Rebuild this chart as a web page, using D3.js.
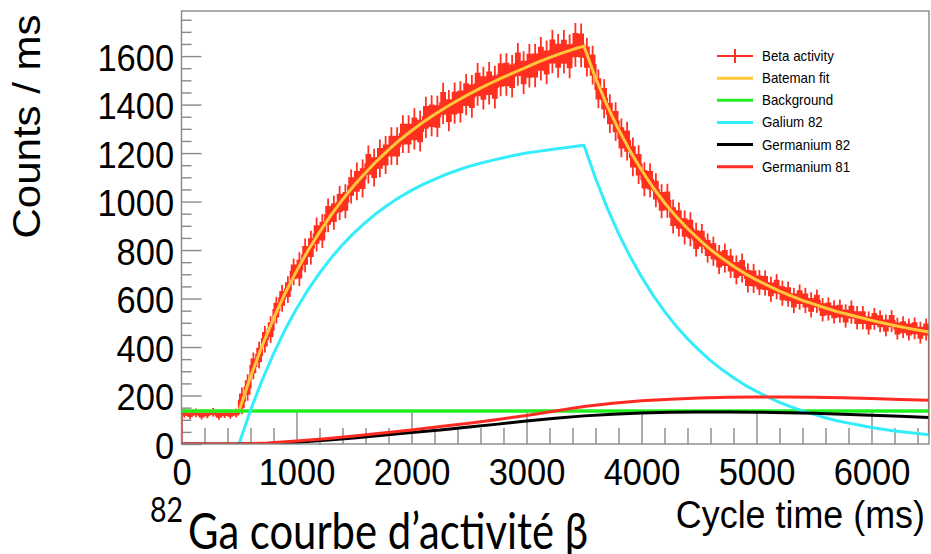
<!doctype html>
<html>
<head>
<meta charset="utf-8">
<style>
    html,body{
        margin: 0;
        overflow: hidden;
        background: #fff;
    }
    text {
        font-family: "Liberation Sans", Arial, Helvetica, sans-serif;
        fill: #000;
    }
</style>
</head>
<body>
<script src="https://d3js.org/d3.v7.min.js"></script>
<script>
// ---- data ----
var binWidth = 50; // ms
// beta activity, one value per 50 ms bin (counts / ms)
var betaCounts = [
    126,121,128,119,124,130,118,125,122,127,
    178,233,322,367,432,472,552,601,637,710,
    721,778,810,864,878,943,954,994,1001,1062,
    1083,1095,1153,1140,1178,1192,1229,1229,1278,1278,
    1300,1291,1347,1354,1351,1405,1375,1406,1411,1441,
    1434,1483,1468,1488,1472,1522,1524,1517,1566,1532,
    1560,1561,1589,1574,1619,1601,1618,1599,1646,1644,
    1596,1563,1465,1424,1363,1330,1263,1249,1184,1152,
    1092,1088,1047,1001,1003,938,926,893,886,843,
    847,808,795,761,767,745,718,726,685,683,
    666,664,638,649,622,618,592,606,592,574,
    589,554,557,545,548,528,544,521,521,499,
    516,506,489,507,476,482,472,477,459,472
];
// half height of the error bars, per 500 ms slice
var betaErrBand = [18, 55, 70, 78, 85, 88, 90, 80, 70, 60, 52, 48, 45];
var betaTail = 40;   // last (partial) bin at the cycle end

var fitTime = [0].concat(d3.range(500, 6501, 100));
var fitValue = [136,
    136,277,403,517,621,713,798,874,944,1008,1066,1119,1168,1213,1255,1292,
    1327,1359,1389,1417,1443,1468,1491,1513,1534,1555,1575,1594,1611,1627,1641,
    1510,1397,1298,1209,1130,1058,995,939,889,844,802,766,733,703,677,
    653,631,611,592,577,561,546,534,522,510,499,489,479,470,462];

var bgTime = [0, 6500];
var bgValue = [136, 136];

var gaTime = d3.range(500, 6501, 100);
var gaValue = [0,139,262,372,471,558,636,705,767,822,871,914,953,988,1019,1046,
    1071,1092,1112,1129,1145,1158,1170,1181,1191,1200,1207,1214,1220,1226,1232,
    1096,976,869,774,690,614,547,487,434,387,344,307,273,243,217,
    193,172,153,136,122,108,96,86,77,68,61,54,48,43,38];

var geTime = d3.range(0, 6501, 250);
var ge82Value = [0,0,0,2,7,15,25,36,47,58,70,82,95,106,116,123,128,131,132,132,131,129,127,123,119,114,109];
var ge81Value = [0,0,0,4,12,22,33,45,58,72,86,101,118,136,155,168,178,185,190,193,194,194,193,191,188,184,180];

var xMajor = [0,1000,2000,3000,4000,5000,6000];
var yMajor = [0,200,400,600,800,1000,1200,1400,1600];

var legendItems = [
    {name: "Beta activity", color: "#ff3020", cross: true},
    {name: "Bateman fit", color: "#ffc83a"},
    {name: "Background", color: "#22ee22"},
    {name: "Galium 82", color: "#33eefa"},
    {name: "Germanium 82", color: "#000000"},
    {name: "Germanium 81", color: "#ff2a22"}
];

(function(){
    var w = 931, h = 554,
        left = 181.5, right = 929, top = 11, bottom = 444,
        sx = 0.92;   // text in the picture is a bit squeezed

    var svg = d3.select("body").append("svg")
        .attr("width", w)
        .attr("height", h);

    var x = d3.scaleLinear().domain([0, 6500]).range([left, right]);
    var y = d3.scaleLinear().domain([0, 1786]).range([bottom, top]);

    svg.append("clipPath").attr("id", "frame")
        .append("rect")
        .attr("x", left).attr("y", top)
        .attr("width", right - left).attr("height", bottom - top);

    // ---- axes ----
    function styleAxis(g){
        g.select(".domain").remove();
        g.selectAll("line").attr("stroke", "#888").attr("stroke-width", 1.4);
    }

    var xMinor = d3.range(0, 6501, 200).filter(function(d){ return d % 1000 !== 0; });
    var yMinor = d3.range(0, 1786, 50).filter(function(d){ return d % 200 !== 0; });

    svg.append("g").attr("transform", "translate(0," + bottom + ")")
        .call(d3.axisBottom(x).tickValues(xMinor).tickSize(-16).tickFormat(""))
        .call(styleAxis);
    var gx = svg.append("g").attr("transform", "translate(0," + bottom + ")")
        .call(d3.axisBottom(x).tickValues(xMajor).tickSize(-32).tickPadding(14).tickFormat(d3.format("d")))
        .call(styleAxis);
    gx.selectAll("text")
        .attr("transform", "scale(" + sx + ",1)")
        .style("font-size", "37.5px").attr("fill", "#000");

    svg.append("g").attr("transform", "translate(" + left + ",0)")
        .call(d3.axisLeft(y).tickValues(yMinor).tickSize(-10).tickFormat(""))
        .call(styleAxis);
    var gy = svg.append("g").attr("transform", "translate(" + left + ",0)")
        .call(d3.axisLeft(y).tickValues(yMajor).tickSize(-20).tickPadding(8).tickFormat(d3.format("d")))
        .call(styleAxis);
    gy.selectAll("text")
        .attr("transform", "scale(" + sx + ",1)")
        .attr("dy", "0.38em")
        .style("font-size", "37.5px").attr("fill", "#000");

    // ---- beta activity histogram with error bars ----
    var bins = betaCounts.map(function(v, i){
        var t0 = i * binWidth;
        return {t0: t0, tc: t0 + binWidth / 2, v: v,
                e: betaErrBand[Math.min(betaErrBand.length - 1, Math.floor((t0 + binWidth / 2) / 500))]};
    });
    var stepPts = bins.concat([{t0: 6500, v: bins[bins.length - 1].v, e: bins[bins.length - 1].e}]);

    var plot = svg.append("g").attr("clip-path", "url(#frame)");
    var beta = legendItems[0].color;

    plot.append("path")
        .datum(stepPts)
        .attr("fill", beta)
        .attr("d", d3.area().curve(d3.curveStepAfter)
            .x(function(d){ return x(d.t0); })
            .y0(function(d){ return y(d.v - 0.55 * d.e); })
            .y1(function(d){ return y(d.v + 0.55 * d.e); }));

    plot.selectAll("line.err").data(bins).enter().append("line")
        .attr("class", "err")
        .attr("x1", function(d){ return x(d.tc); })
        .attr("x2", function(d){ return x(d.tc); })
        .attr("y1", function(d){ return y(d.v - d.e); })
        .attr("y2", function(d){ return y(d.v + d.e); })
        .attr("stroke", beta).attr("stroke-width", 1.8);

    var edgePts = [{t0: 0, v: 0}].concat(stepPts, [{t0: 6500, v: betaTail}]);
    plot.append("path")
        .datum(edgePts)
        .attr("fill", "none").attr("stroke", beta).attr("stroke-width", 2.2)
        .attr("d", d3.line().curve(d3.curveStepAfter)
            .x(function(d){ return x(d.t0); })
            .y(function(d){ return y(d.v); }));

    // ---- curves ----
    function curve(ts, vs, color, width){
        plot.append("path")
            .datum(ts.map(function(t, i){ return [t, vs[i]]; }))
            .attr("fill", "none")
            .attr("stroke", color)
            .attr("stroke-width", width)
            .attr("stroke-linejoin", "round")
            .attr("d", d3.line()
                .x(function(d){ return x(d[0]); })
                .y(function(d){ return y(d[1]); }));
    }
    curve(fitTime, fitValue, legendItems[1].color, 3);
    curve(bgTime, bgValue, legendItems[2].color, 3.4);
    curve(gaTime, gaValue, legendItems[3].color, 3);
    curve(geTime, ge82Value, legendItems[4].color, 3);
    curve(geTime, ge81Value, legendItems[5].color, 3);

    // ---- frame ----
    svg.append("rect")
        .attr("x", left).attr("y", top)
        .attr("width", right - left).attr("height", bottom - top)
        .attr("fill", "none").attr("stroke", "#888").attr("stroke-width", 1.4);

    // ---- legend ----
    var lg = svg.append("g");
    legendItems.forEach(function(d, i){
        var cy = 56 + i * 22.15;
        lg.append("line")
            .attr("x1", 717).attr("x2", 753).attr("y1", cy).attr("y2", cy)
            .attr("stroke", d.color).attr("stroke-width", d.cross ? 2 : 3);
        if (d.cross) {
            lg.append("line")
                .attr("x1", 735).attr("x2", 735).attr("y1", cy - 7).attr("y2", cy + 7)
                .attr("stroke", d.color).attr("stroke-width", 2);
        }
        lg.append("text")
            .attr("transform", "translate(762," + (cy + 5) + ") scale(" + sx + ",1)")
            .style("font-size", "14.5px")
            .text(d.name);
    });

    // ---- axis titles ----
    svg.append("text")
        .attr("transform", "translate(40,126.5) scale(" + sx + ",1) rotate(-90)")
        .attr("text-anchor", "middle")
        .style("font-size", "42px")
        .text("Counts / ms");

    svg.append("text")
        .attr("transform", "translate(925,528) scale(" + sx + ",1)")
        .attr("text-anchor", "end")
        .style("font-size", "39px")
        .text("Cycle time (ms)");

    // ---- caption from the slide ----
    svg.append("text")
        .attr("x", 150).attr("y", 522)
        .style("font-family", "Lato, 'Open Sans', sans-serif")
        .style("font-size", "34px")
        .attr("textLength", 33).attr("lengthAdjust", "spacingAndGlyphs")
        .text("82");
    svg.append("text")
        .attr("x", 188).attr("y", 549)
        .style("font-family", "Lato, 'Open Sans', sans-serif")
        .style("font-size", "50px")
        .attr("textLength", 400).attr("lengthAdjust", "spacingAndGlyphs")
        .text("Ga courbe d’activité β");
})();
</script>
</body>
</html>
